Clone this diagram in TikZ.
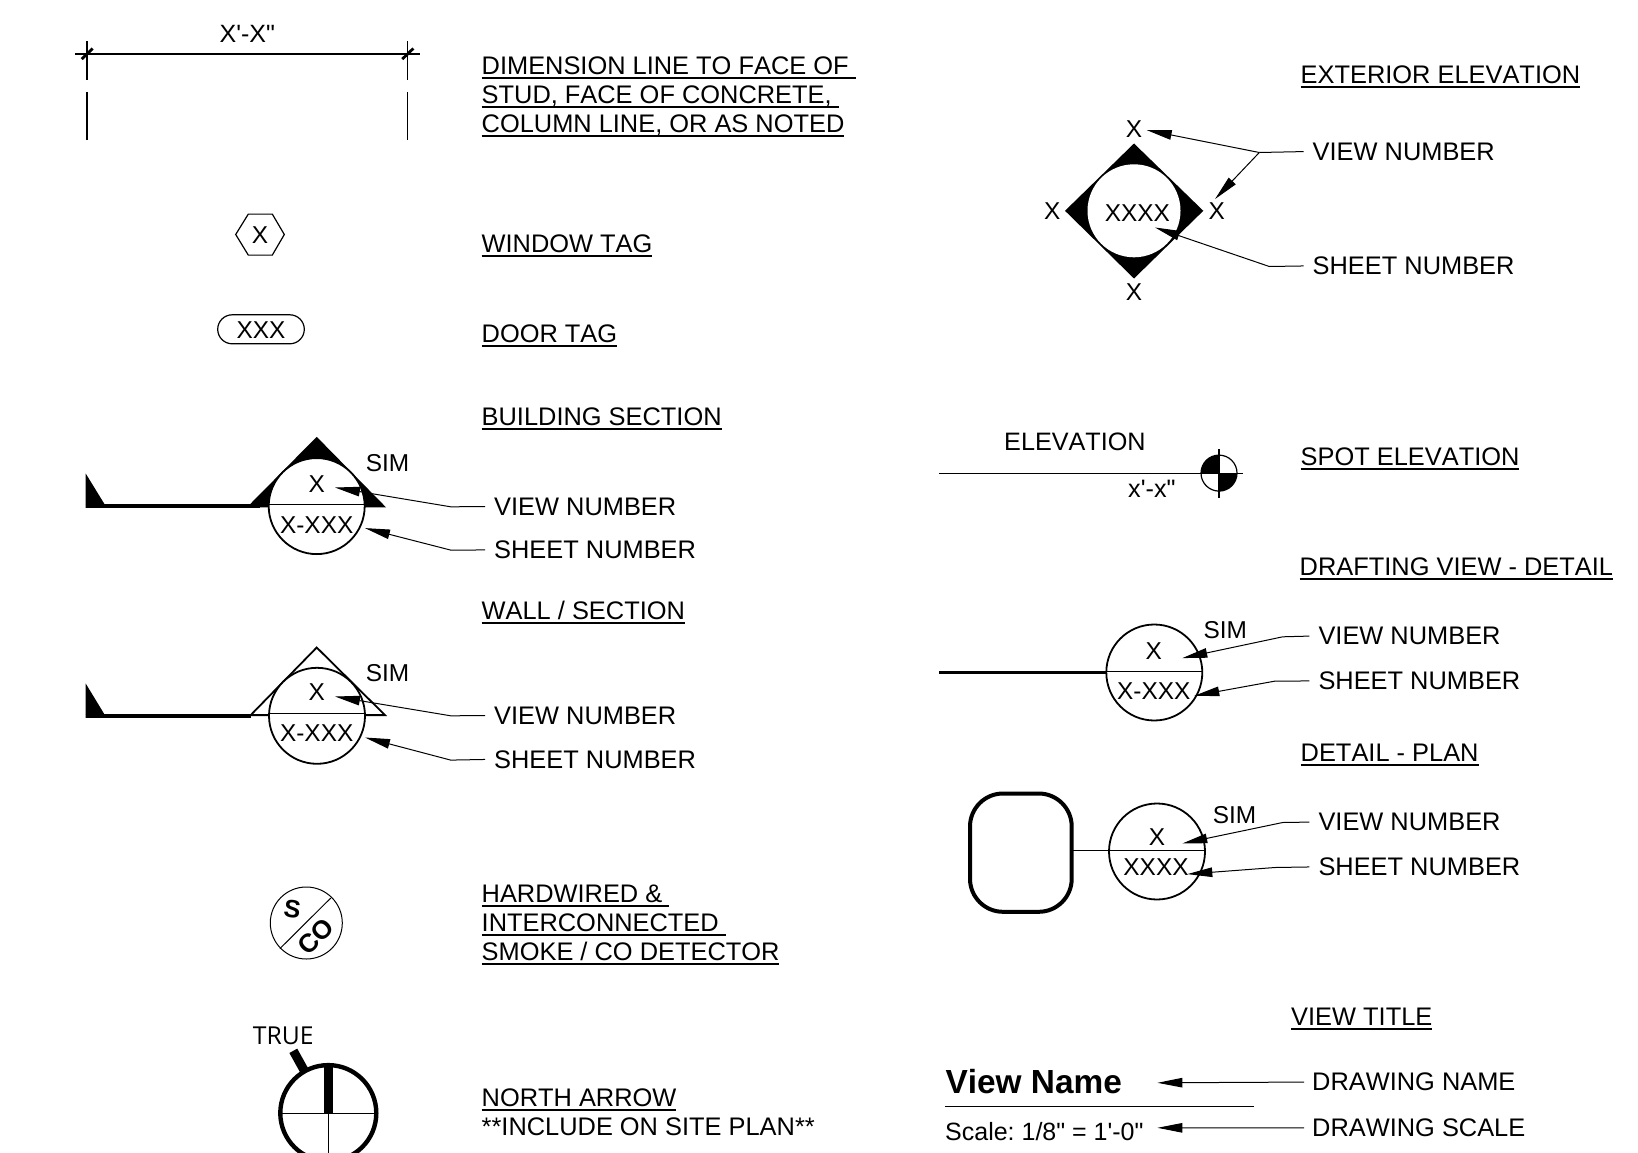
\documentclass[tikz,border=0pt]{standalone}
\usepackage{fontspec}
\setmainfont{Liberation Sans}[Ligatures=TeXOff,Kerning=Off]
\newfontfamily\truefont{Open Sans}
\usetikzlibrary{arrows.meta}
\newcommand\ulabel[1]{\setbox0\hbox{#1}\rlap{\vrule depth 4.4pt height -2.4pt width\wd0}\box0}
\frenchspacing
\tikzset{
  x=1pt,y=-1pt,
  lbl/.style={anchor=base west,inner sep=0pt,yshift=0.6pt,font=\frenchspacing\fontsize{25.4}{29}\selectfont},
  sym/.style={anchor=base,inner sep=0pt,font=\frenchspacing\fontsize{24.4}{29}\selectfont},
  symw/.style={anchor=base west,inner sep=0pt,font=\frenchspacing\fontsize{24.4}{29}\selectfont},
  thin line/.style={line width=1.2pt},
  med line/.style={line width=1.8pt},
  heavy line/.style={line width=4pt},
  lead/.style={line width=1pt,-{Triangle[length=25pt,width=9.5pt]}},
}
\begin{document}
\begin{tikzpicture}
\useasboundingbox (0,0) rectangle (1638,1153);
\clip (0,0) rectangle (1638,1153);
\fill[white] (0,0) rectangle (1638,1153);
\begin{scope}[yshift=-0.8pt]
% dimension line
\coordinate (d1) at (75,53.3); \coordinate (d2) at (420,53.3);
\draw[thin line] (d1) -- (d2);
\draw[thin line] (87,40.7) -- (87,79) (87,91) -- (87,139.3);
\draw[thin line] (407.3,40.7) -- (407.3,79) (407.3,91) -- (407.3,139.3);
\draw[line width=2.8pt] (81.7,58.3) -- (92.7,47.7);
\draw[line width=2.8pt] (402.3,58.3) -- (413.3,47.7);
\node[sym,font=\fontsize{25}{29}\selectfont] (dimtxt) at (247.3,41.7) {X'-X"};
\node[lbl] (l1a) at (481.5,74.5) {\ulabel{DIMENSION LINE TO FACE OF\ }};
\node[lbl] (l1b) at (481.5,103) {\ulabel{STUD, FACE OF CONCRETE,\ }};
\node[lbl] (l1c) at (481.5,132) {\ulabel{COLUMN LINE, OR AS NOTED}};

% window tag
\draw[thin line] (235.7,233.7) -- (248.3,213.3) -- (272.3,213.3) -- (284.3,233.7) -- (272.3,254.3) -- (248.3,254.3) -- cycle;
\node[sym] (wt) at (260,242.3) {X};
\node[lbl] (l2) at (481.5,252.5) {\ulabel{WINDOW TAG}};

% door tag
\draw[thin line,rounded corners=14.5pt] (217.7,314) rectangle (304.3,343);
\node[sym] (dt) at (261,337.7) {XXX};
\node[lbl] (l3) at (481.5,342.5) {\ulabel{DOOR TAG}};

% building section
\node[lbl] (l4) at (481.5,425.5) {\ulabel{BUILDING SECTION}};
\fill (85.7,472.7) -- (104.3,503) -- (104.3,507) -- (85.7,507) -- cycle;
\draw[heavy line] (85.7,505) -- (260,505);
\fill (316.7,436) -- (386,506.5) -- (247,506.5) -- cycle;
\draw[med line,fill=white] (316.7,505.3) circle[radius=48];
\draw[thin line] (269,503.3) -- (364.7,503.3);
\node[sym] (bs1) at (316.7,491.7) {X};
\node[sym] (bs2) at (316.7,532.3) {X-XXX};
\node[symw] (bs3) at (365.7,470.7) {SIM};
\node[lbl] (bv) at (494,515) {VIEW NUMBER};
\node[lbl] (bn) at (494,558.5) {SHEET NUMBER};
\coordinate (bv1) at (450.7,506); \coordinate (bvt) at (335,486.7);
\coordinate (bn1) at (450.7,549.3); \coordinate (bnt) at (365,527.3);
\draw[lead] ([xshift=-9pt]bv.west) -- (bv1) -- (bvt);
\draw[lead] ([xshift=-9pt]bn.west) -- (bn1) -- (bnt);

% wall section
\node[lbl] (l5) at (481.5,619.5) {\ulabel{WALL / SECTION}};
\fill (85.7,682.7) -- (104.3,713.3) -- (104.3,717) -- (85.7,717) -- cycle;
\draw[heavy line] (85.7,715) -- (251,715);
\draw[med line] (250.7,714.3) -- (316.7,646.7) -- (385,714.3) -- cycle;
\draw[med line,fill=white] (317,715) circle[radius=48];
\draw[thin line] (269,712.3) -- (365,712.3);
\node[sym] (ws1) at (316.7,700) {X};
\node[sym] (ws2) at (316.7,741) {X-XXX};
\node[symw] (ws3) at (365.7,680.7) {SIM};
\node[lbl] (wv) at (494,724) {VIEW NUMBER};
\node[lbl] (wn) at (494,768) {SHEET NUMBER};
\coordinate (wv1) at (450.7,715); \coordinate (wvt) at (335,695.7);
\coordinate (wn1) at (450.7,759.3); \coordinate (wnt) at (365,736.7);
\draw[lead] ([xshift=-9pt]wv.west) -- (wv1) -- (wvt);
\draw[lead] ([xshift=-9pt]wn.west) -- (wn1) -- (wnt);

% smoke detector
\draw[line width=1pt] (306.3,922.2) circle[radius=36];
\draw[line width=1pt] (330.7,897.3) -- (280,947.7);
\node[inner sep=0pt,rotate=-8,font=\fontsize{25}{26}\bfseries] (sd1) at (292.3,908) {S};
\node[inner sep=0pt,rotate=45,font=\fontsize{26}{26}\bfseries] (sd2) at (315.5,935.5) {CO};
\node[lbl] (l6a) at (481.5,902.5) {\ulabel{HARDWIRED \&\ }};
\node[lbl] (l6b) at (481.5,931) {\ulabel{INTERCONNECTED\ }};
\node[lbl] (l6c) at (481.5,960) {\ulabel{SMOKE / CO DETECTOR}};

% north arrow
\node[anchor=base west,inner sep=0pt,font=\truefont\fontsize{24.7}{28}\selectfont] (tr) at (252.7,1044) {TRUE};
\draw[line width=9pt] (293.3,1050) -- (304,1069.3);
\draw[line width=4.4pt] (328.3,1112.3) circle[radius=48];
\draw[thin line] (280.3,1112.3) -- (376.3,1112.3) (328.3,1112.3) -- (328.3,1160);
\fill (324,1064) rectangle (332.7,1112.3);
\node[lbl] (l7a) at (481.5,1106.5) {\ulabel{NORTH ARROW}};
\node[lbl] (l7b) at (481.5,1135.5) {**INCLUDE ON SITE PLAN**};

% exterior elevation
\node[lbl] (r1) at (1300.5,83.5) {\ulabel{EXTERIOR ELEVATION}};
\fill (1134,142.7) -- (1203.3,210) -- (1134,277.7) -- (1065,210) -- cycle;
\fill[white] (1134,210) circle[radius=46.5];
\node[sym] (ex0) at (1137.3,220.7) {XXXX};
\node[sym] (ex1) at (1134,136.7) {X};
\node[sym] (ex2) at (1052.3,218.3) {X};
\node[sym] (ex3) at (1216.7,218.3) {X};
\node[sym] (ex4) at (1134,300) {X};
\node[lbl] (ev) at (1312.5,160) {VIEW NUMBER};
\node[lbl] (en) at (1312.5,274.5) {SHEET NUMBER};
\coordinate (ej) at (1259.3,151.7); \coordinate (et1) at (1146.7,129.3); \coordinate (et2) at (1215,198.3);
\coordinate (en1) at (1269.3,265.7); \coordinate (ent) at (1155,226.7);
\draw[line width=1pt] ([xshift=-9pt]ev.west) -- (ej);
\draw[lead] (ej) -- (et1);
\draw[lead] (ej) -- (et2);
\draw[lead] ([xshift=-9pt]en.west) -- (en1) -- (ent);

% spot elevation
\draw[thin line] (939.3,472.3) -- (1243.3,472.3);
\draw[thin line] (1219,448.3) -- (1219,497.3);
\draw[thin line] (1219,472.3) circle[radius=18];
\fill (1219,472.3) -- (1201,472.3) arc[start angle=180,end angle=270,radius=18] -- cycle;
\fill (1219,472.3) -- (1237,472.3) arc[start angle=0,end angle=90,radius=18] -- cycle;
\node[symw,font=\fontsize{25.2}{29}\selectfont] (se1) at (1004,450) {ELEVATION};
\node[symw,font=\fontsize{25.2}{29}\selectfont] (se2) at (1128,496.7) {x'-x"};
\node[lbl] (r2) at (1300.5,465.5) {\ulabel{SPOT ELEVATION}};

% drafting view
\node[lbl] (r3) at (1299.5,575.5) {\ulabel{DRAFTING VIEW - DETAIL}};
\draw[line width=2.2pt] (939.3,671.7) -- (1106.3,671.7);
\draw[med line,fill=white] (1154.3,671.7) circle[radius=48];
\draw[thin line] (1106.3,670.3) -- (1202.3,670.3);
\node[sym] (dv1) at (1153.7,659) {X};
\node[sym] (dv2) at (1153.7,698.7) {X-XXX};
\node[symw] (dv3) at (1203.3,637.7) {SIM};
\node[lbl] (dv) at (1318.3,644.5) {VIEW NUMBER};
\node[lbl] (dn) at (1318.3,689.5) {SHEET NUMBER};
\coordinate (dv4) at (1282.7,636); \coordinate (dvt) at (1182.3,657.3);
\coordinate (dn4) at (1275,680.3); \coordinate (dnt) at (1194.3,695);
\draw[lead] ([xshift=-9pt]dv.west) -- (dv4) -- (dvt);
\draw[lead] ([xshift=-9pt]dn.west) -- (dn4) -- (dnt);

% detail plan
\node[lbl] (r4) at (1300.5,761.5) {\ulabel{DETAIL - PLAN}};
\draw[heavy line,rounded corners=33pt] (970,792.7) rectangle (1071.7,911);
\draw[line width=1pt] (1073.3,849.3) -- (1109,849.3);
\draw[med line,fill=white] (1157,850.7) circle[radius=48];
\draw[thin line] (1109,849.3) -- (1205,849.3);
\node[sym] (dp1) at (1157,844.3) {X};
\node[sym] (dp2) at (1156,874.7) {XXXX};
\node[symw] (dp3) at (1212.7,822.3) {SIM};
\node[lbl] (pv) at (1318.3,830.5) {VIEW NUMBER};
\node[lbl] (pn) at (1318.3,875.5) {SHEET NUMBER};
\coordinate (pv4) at (1282.7,821.7); \coordinate (pvt) at (1182.3,842.7);
\coordinate (pn4) at (1275,866.7); \coordinate (pnt) at (1187.3,873.3);
\draw[lead] ([xshift=-9pt]pv.west) -- (pv4) -- (pvt);
\draw[lead] ([xshift=-9pt]pn.west) -- (pn4) -- (pnt);

% view title
\node[lbl] (r5) at (1291,1025.5) {\ulabel{VIEW TITLE}};
\node[anchor=base west,inner sep=0pt,font=\fontsize{33.4}{38}\bfseries] (vn) at (945.4,1092.7) {View Name};
\draw[line width=1pt] (945,1105.5) -- (1254,1105.5);
\node[anchor=base west,inner sep=0pt,font=\fontsize{25}{28}\selectfont] (sc) at (945,1139.7) {Scale: 1/8" = 1'-0"};
\node[lbl] (tv) at (1312,1090.6) {DRAWING NAME};
\node[lbl] (ts) at (1312,1136.5) {DRAWING SCALE};
\coordinate (tvt) at (1157.4,1082); \coordinate (tst) at (1157.4,1127);
\draw[lead] ([xshift=-8pt]tv.west) -- (tvt);
\draw[lead] ([xshift=-8pt]ts.west) -- (tst);
\end{scope}
\end{tikzpicture}
\end{document}
